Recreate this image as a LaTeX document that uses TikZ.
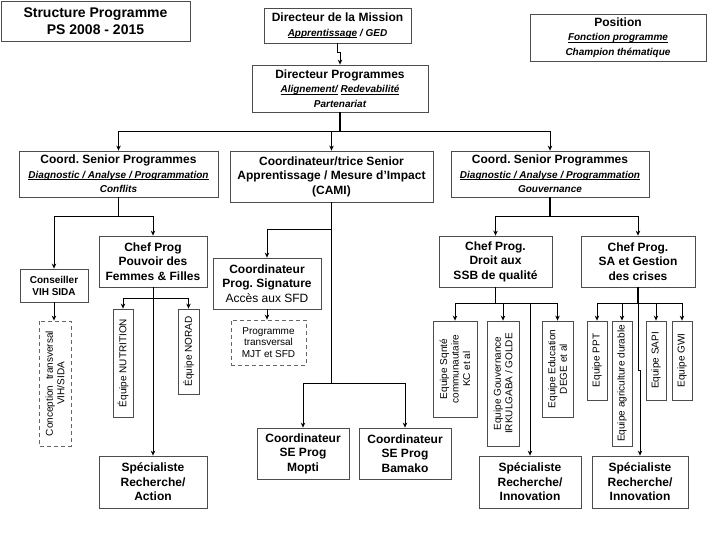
\documentclass[tikz,border=0pt]{standalone}
\usepackage{fontspec}
\setmainfont{Liberation Sans}
\usepackage{tikz}
\usetikzlibrary{arrows.meta, positioning}
\frenchspacing

\newcommand{\subtxt}{\fontsize{10}{12}\selectfont\bfseries\itshape}
\newcommand{\uln}[1]{\setbox0\hbox{#1}\rlap{\rule[-1.4pt]{\wd0}{0.6pt}}\box0\relax}

\begin{document}
\begin{tikzpicture}[x=1pt, y=-1pt, >={Stealth[length=5pt, width=4.5pt]},
  box/.style={draw=black!70, line width=0.8pt, fill=white, align=center,
    inner sep=1pt, font=\fontsize{12}{14.4}\selectfont\bfseries},
  team/.style={draw=black!70, line width=0.8pt, fill=white, rotate=90,
    align=center, inner sep=1pt, font=\fontsize{10}{11.5}\selectfont},
  dashbox/.style={dash pattern=on 4pt off 3pt, draw=black!60},
  link/.style={line width=0.9pt},
  trunk/.style={line width=1.7pt}]
  \useasboundingbox (0,0) rectangle (720,540);

  % Header
  \node[box, minimum width=189pt, minimum height=40pt,
    font=\fontsize{14}{17}\selectfont\bfseries] (title) at (95.5,21)
    {Structure Programme\\PS 2008 - 2015};
  \node[box, minimum width=147pt, minimum height=35pt] (mission) at (337.5,25.5)
    {Directeur de la Mission\\{\subtxt\uln{Apprentissage} / GED}};
  \node[box, minimum width=176pt, minimum height=47pt] (position) at (618,37.5)
    {Position\\{\subtxt\uln{Fonction programme}}\\{\subtxt Champion thématique}};
  \node[box, minimum width=176pt, minimum height=47pt] (dprog) at (340,88.5)
    {Directeur Programmes\\{\subtxt\uln{Alignement/} \uln{Redevabilité}}\\{\subtxt Partenariat}};

  % Senior coordinators
  \node[box, minimum width=199pt, minimum height=46pt] (cspL) at (118.5,174)
    {Coord. Senior Programmes\\{\subtxt\uln{Diagnostic / Analyse / Programmation}}\\{\subtxt Conflits}};
  \node[box, minimum width=203pt, minimum height=51pt] (cami) at (331.5,176.5)
    {Coordinateur/trice Senior\\Apprentissage / Mesure d’Impact\\(CAMI)};
  \node[box, minimum width=198pt, minimum height=46pt] (cspR) at (550,174)
    {Coord. Senior Programmes\\{\subtxt\uln{Diagnostic / Analyse / Programmation}}\\{\subtxt Gouvernance}};

  % Left branch
  \node[box, minimum width=68pt, minimum height=33pt,
    font=\fontsize{10}{12}\selectfont\bfseries] (vih) at (54,285.5)
    {Conseiller\\VIH SIDA};
  \node[team, dashbox, minimum width=125pt, minimum height=32pt] (concept) at (55,383.5)
    {Conception\ \ transversal\\VIH/SIDA};
  \node[box, minimum width=108pt, minimum height=51pt] (cpPouvoir) at (153,261.5)
    {Chef Prog\\Pouvoir des\\Femmes \& Filles};
  \node[team, minimum width=108pt, minimum height=20pt] (nutrition) at (123,363)
    {Équipe NUTRITION};
  \node[team, minimum width=85pt, minimum height=21pt] (norad) at (188.5,351.5)
    {Équipe NORAD};
  \node[box, minimum width=108pt, minimum height=52pt] (specAction) at (153,482)
    {Spécialiste\\Recherche/\\Action};

  % Middle branch
  \node[box, minimum width=108pt, minimum height=51pt] (signature) at (267,283.5)
    {Coordinateur\\Prog. Signature\\{\mdseries Accès aux SFD}};
  \node[box, dashbox, minimum width=75pt, minimum height=45pt,
    font=\fontsize{10}{11.5}\selectfont] (transv) at (268.5,342.5)
    {Programme\\transversal\\MJT et SFD};
  \node[box, minimum width=92pt, minimum height=51pt] (mopti) at (303,453.5)
    {Coordinateur\\SE Prog\\Mopti};
  \node[box, minimum width=92pt, minimum height=51pt] (bamako) at (405,453.5)
    {Coordinateur\\SE Prog\\Bamako};

  % Right branch
  \node[box, minimum width=113pt, minimum height=51pt] (cpSSB) at (495.5,261.5)
    {Chef Prog.\\Droit aux\\SSB de qualité};
  \node[box, minimum width=114pt, minimum height=51pt] (cpSA) at (638,261.5)
    {Chef Prog.\\SA et Gestion\\des crises};
  \node[team, minimum width=96pt, minimum height=44pt] (sante) at (455,369)
    {Equipe Sqnté\\communautaire\\KC et al};
  \node[team, minimum width=125pt, minimum height=32pt] (gouv) at (503,383.5)
    {Equipe Gouvernance\\IRKULGABA / GOLDE};
  \node[team, minimum width=96pt, minimum height=31pt] (educ) at (557.5,369)
    {Equipe Education\\DEGE et al};
  \node[box, minimum width=102pt, minimum height=52pt] (specInnovL) at (530,482)
    {Spécialiste\\Recherche/\\Innovation};
  \node[team, minimum width=79pt, minimum height=20pt] (ppt) at (597,360.5)
    {Equipe PPT};
  \node[team, minimum width=125pt, minimum height=20pt] (agri) at (622,383.5)
    {Equipe agriculture durable};
  \node[team, minimum width=79pt, minimum height=20pt] (sapi) at (656,360.5)
    {Equipe SAPI};
  \node[team, minimum width=79pt, minimum height=20pt] (gwi) at (682,360.5)
    {Equipe GWI};
  \node[box, minimum width=96pt, minimum height=52pt] (specInnovR) at (640,482)
    {Spécialiste\\Recherche/\\Innovation};

  % Bus points
  \coordinate (busTop) at (340,131);
  \coordinate (busL) at (118.5,216);
  \coordinate (busP) at (153,298);
  \coordinate (busC) at (331.5,229);
  \coordinate (busM) at (331.5,383);
  \coordinate (busR) at (550,216);
  \coordinate (busS) at (495.5,303);
  \coordinate (busA) at (638,303);

  % Connectors (rotated boxes: east is the top edge)
  \draw[link, ->] (mission.south) -- ++(0,9) -| (dprog.north);
  \draw[trunk] (dprog.south) -- (busTop);
  \draw[link, ->] (busTop) -| (cspL.north);
  \draw[link, ->] (busTop) -| (cami.north);
  \draw[link, ->] (busTop) -| (cspR.north);

  \draw[trunk] (cspL.south) -- (busL);
  \draw[link, ->] (busL) -| (vih.north);
  \draw[link, ->] (busL) -| (cpPouvoir.north);
  \draw[link, ->] (vih.south) -- (vih.south |- concept.east);
  \draw[link, ->] (cpPouvoir.south) -- (specAction.north);
  \draw[link, ->] (busP) -| (nutrition.east);
  \draw[link, ->] (busP) -| (norad.east);

  \draw[link] (cami.south) -- (busM);
  \draw[link, ->] (busC) -| (signature.north);
  \draw[link, ->] (signature.south) -- (signature.south |- transv.north);
  \draw[link, ->] (busM) -| (mopti.north);
  \draw[link, ->] (busM) -| (bamako.north);

  \draw[trunk] (cspR.south) -- (busR);
  \draw[link, ->] (busR) -| (cpSSB.north);
  \draw[link, ->] (busR) -| (cpSA.north);

  \draw[trunk] (cpSSB.south) -- (busS);
  \draw[link, ->] (busS) -| (sante.east);
  \draw[link, ->] (busS) -| (gouv.east);
  \draw[link, ->] (busS) -| (educ.east);
  \draw[link, ->] (busS) -| (specInnovL.north);

  \draw[trunk] (cpSA.south) -- (busA);
  \draw[link, ->] (busA) -| (ppt.east);
  \draw[link, ->] (busA) -| (agri.east);
  \draw[link, ->] (busA) -| (sapi.east);
  \draw[link, ->] (busA) -| (gwi.east);
  \draw[link, ->] (busA) -- ++(0,67) -| (specInnovR.north);
\end{tikzpicture}
\end{document}
